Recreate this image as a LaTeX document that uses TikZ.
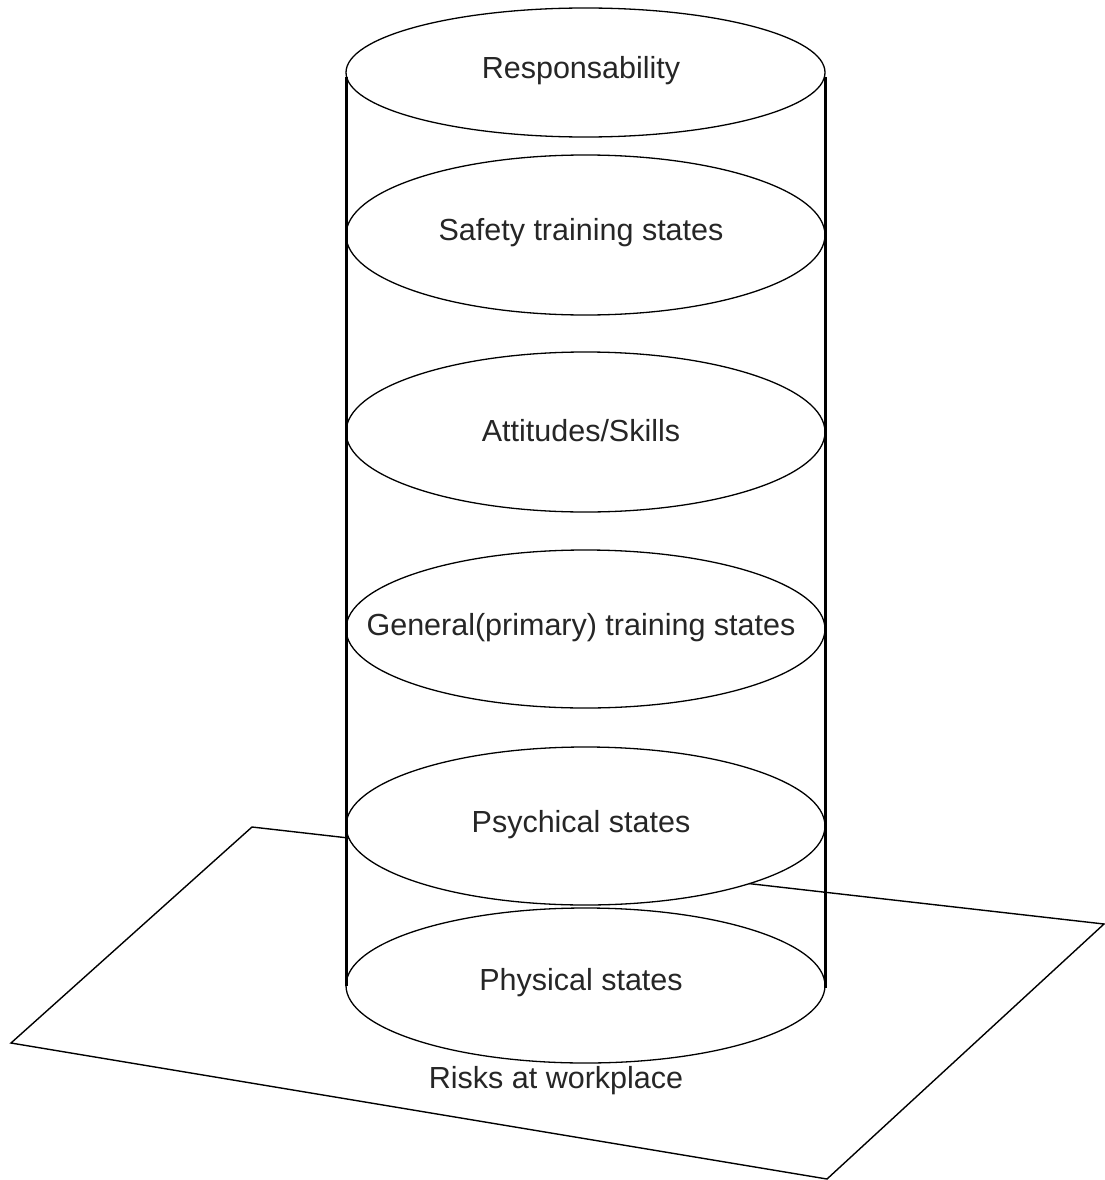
\documentclass[tikz,border=0pt]{standalone}
\usepackage{fontspec}
\setmainfont{Liberation Sans}
\usetikzlibrary{shapes.geometric}
\begin{document}
\begin{tikzpicture}[x=1pt,y=-1pt,
  layer/.style={ellipse,draw=black,fill=white,line width=1.3pt,inner sep=0pt,minimum width=479pt},
  lbl/.style={inner sep=0pt,font=\fontsize{30.5}{36}\selectfont,text=black!85},
  plane/.style={draw=black,line width=1.4pt,line join=miter},
  post/.style={draw=black,line width=3pt}]
\useasboundingbox (0,0) rectangle (1104,1180);
\fill[white] (0,0) rectangle (1104,1180);
% plane
\coordinate (pA) at (252,827);
\coordinate (pB) at (1104,924);
\coordinate (pC) at (827,1179);
\coordinate (pD) at (11,1043);
\draw[plane] (pA) -- (pB) -- (pC) -- (pD) -- cycle;
\node[lbl] (risk) at (556,1081) {Risks at workplace};
% layers
\node[layer,minimum height=129pt] (e1) at (585.5,72.5) {};
\node[layer,minimum height=160pt] (e2) at (585.5,235) {};
\node[layer,minimum height=160pt] (e3) at (585.5,432) {};
\node[layer,minimum height=158pt] (e4) at (585.5,629) {};
\node[layer,minimum height=158pt] (e5) at (585.5,826) {};
\node[layer,minimum height=155pt] (e6) at (585.5,985.5) {};
\node[lbl] (t1) at (581,71) {Responsability};
\node[lbl] (t2) at (581,233) {Safety training states};
\node[lbl] (t3) at (581,431) {Attitudes/Skills};
\node[lbl] (t4) at (581,628) {General(primary) training states};
\node[lbl] (t5) at (581,825) {Psychical states};
\node[lbl] (t6) at (581,983) {Physical states};
% posts
\coordinate (lt) at (346,77);
\coordinate (lb) at (346,986);
\coordinate (rt) at (825,77);
\coordinate (rb) at (825,988);
\draw[post] (lt) -- (lb);
\draw[post] (rt) -- (rb);
\end{tikzpicture}
\end{document}
